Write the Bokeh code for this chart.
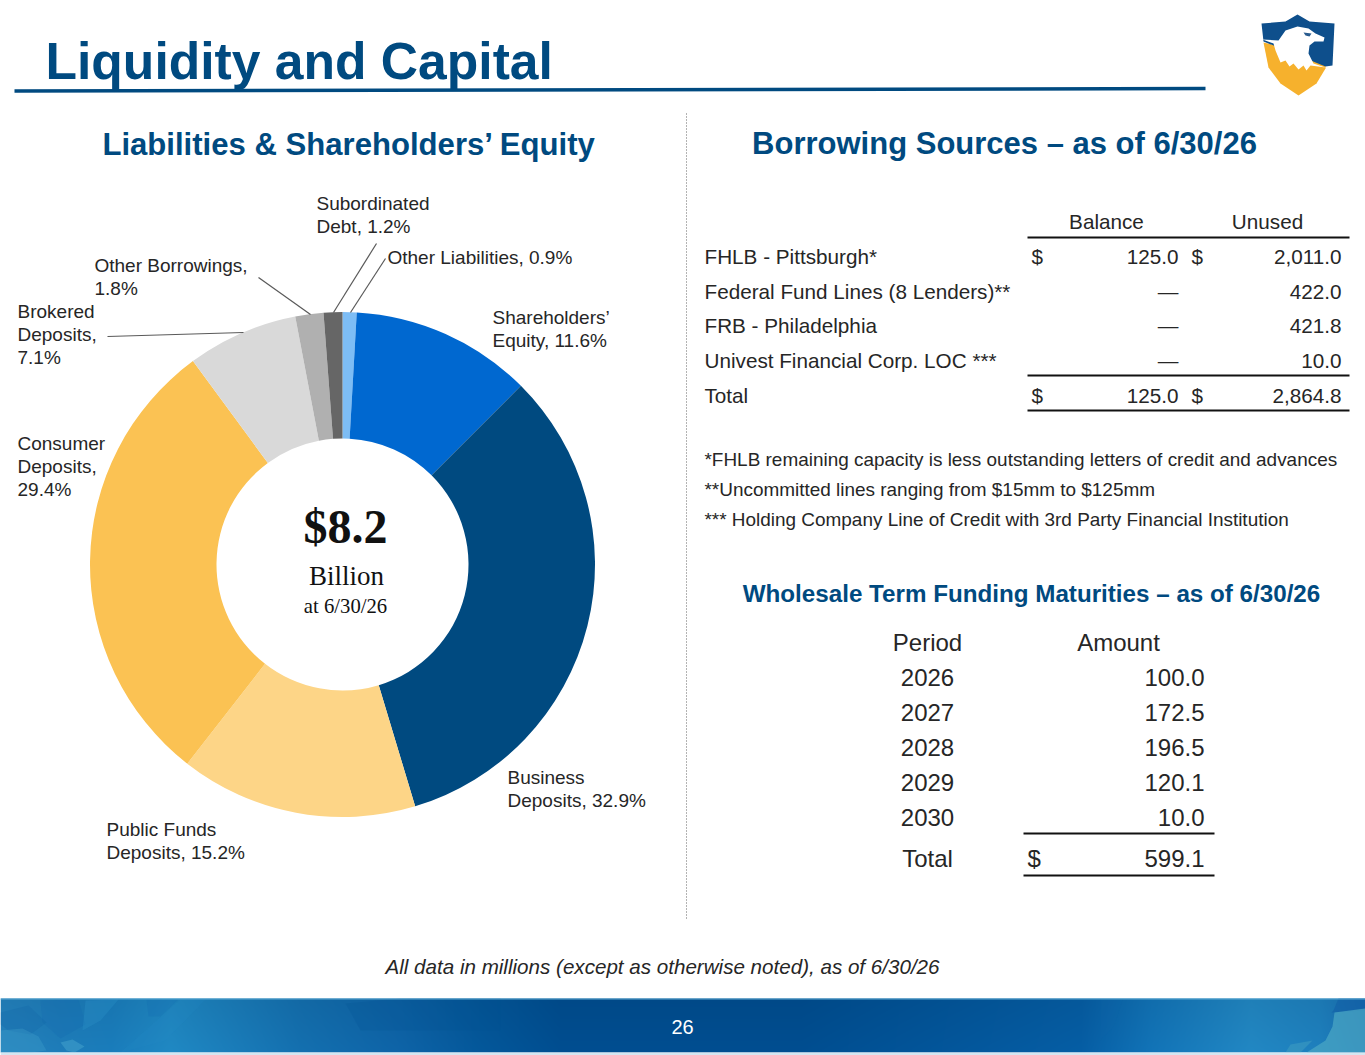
import numpy as np
from bokeh.plotting import figure
from bokeh.models import Range1d
from bokeh.core.properties import value
from bokeh.embed import file_html
from bokeh.resources import INLINE

W, H = 1365, 1055
SANS = "Liberation Sans"
SERIF = "Liberation Serif"
NAVY = "#004a80"
INK = "#262626"

# ---- data ----
slice_names = ["Other Liabilities", "Shareholders\u2019 Equity", "Business Deposits", "Public Funds Deposits",
               "Consumer Deposits", "Brokered Deposits", "Other Borrowings", "Subordinated Debt"]
slice_values = [0.9, 11.6, 32.9, 15.2, 29.4, 7.1, 1.8, 1.2]
slice_colors = ["#7dbdf5", "#0068d0", "#004a80", "#fdd587", "#fbc253", "#d9d9d9", "#b0b0b0", "#666666"]

borrow_names = ["FHLB - Pittsburgh*", "Federal Fund Lines (8 Lenders)**", "FRB - Philadelphia",
                "Univest Financial Corp. LOC ***", "Total"]
borrow_balance = ["125.0", "\u2014", "\u2014", "\u2014", "125.0"]
borrow_unused = ["2,011.0", "422.0", "421.8", "10.0", "2,864.8"]

notes = ["*FHLB remaining capacity is less outstanding letters of credit and advances",
         "**Uncommitted lines ranging from $15mm to $125mm",
         "*** Holding Company Line of Credit with 3rd Party Financial Institution"]

periods = ["2026", "2027", "2028", "2029", "2030", "Total"]
amounts = ["100.0", "172.5", "196.5", "120.1", "10.0", "599.1"]

p = figure(width=W, height=H, x_range=Range1d(0, W), y_range=Range1d(0, H),
           output_backend="svg", toolbar_location=None, min_border=0)
p.axis.visible = False
p.grid.visible = False
p.outline_line_color = None
p.styles = {"position": "absolute", "left": "0px", "top": "0px"}

def Y(v):
    return H - v

def txt(x, y, s, size, color=INK, font=SANS, style="normal", align="left", baseline="middle"):
    p.text([x - 2], [Y(y - 2)], text=[s], text_font=value(font), text_font_size=f"{size}px",
           text_font_style=style, text_color=color, text_align=align, text_baseline=baseline)

def poly(xs, ys, color, alpha=1.0):
    p.patch(xs, [Y(v) for v in ys], fill_color=color, fill_alpha=alpha, line_color=None)

# ---- footer band ----
stops_x = [0, 60, 110, 170, 300, 400, 480, 560, 800, 1080, 1150, 1250, 1320, 1365]
stops_r = [36, 30, 26, 32, 20, 14, 4, 0, 0, 6, 18, 34, 30, 24]
stops_g = [130, 125, 125, 137, 112, 100, 88, 78, 78, 94, 116, 136, 128, 110]
stops_b = [190, 186, 188, 196, 176, 168, 155, 145, 145, 165, 184, 196, 190, 178]
cols = np.arange(W)
rows = 54
rgba = np.zeros((rows, W), dtype=np.uint32)
view = rgba.view(dtype=np.uint8).reshape((rows, W, 4))
for i in range(rows):
    f = i / (rows - 1)                 # 0 at the bottom row of the image
    lift = 1.0 - 0.06 * f
    view[i, :, 0] = np.clip(np.interp(cols, stops_x, stops_r) * lift, 0, 255)
    view[i, :, 1] = np.clip(np.interp(cols, stops_x, stops_g) * lift, 0, 255)
    view[i, :, 2] = np.clip(np.interp(cols, stops_x, stops_b) * lift, 0, 255)
    view[i, :, 3] = 255
p.image_rgba(image=[rgba], x=0, y=Y(1052), dw=W, dh=54)
# mottled texture of the band
poly([0, 28, 46, 30, 8, 0], [1012, 1005, 1022, 1034, 1030, 1024], "#0f5fa6", 0.22)
poly([0, 22, 38, 46, 30, 0], [1030, 1028, 1036, 1050, 1052, 1052], "#45a6cc", 0.3)
poly([60, 72, 84, 74, 66], [1042, 1039, 1046, 1052, 1050], "#58b6d6", 0.35)
poly([40, 78, 85, 60, 42], [1000, 999, 1024, 1038, 1022], "#0f66ae", 0.2)
poly([85, 118, 100, 82], [1000, 999, 1020, 1030], "#2f95c9", 0.3)
poly([146, 178, 160, 148], [999, 999, 1016, 1016], "#0f66ae", 0.2)
poly([180, 205, 165, 120], [999, 999, 1040, 1052], "#2b90c8", 0.15)
poly([345, 400, 500, 500, 360], [1003, 998, 998, 1030, 1030], "#004f90", 0.2)
poly([1100, 1122, 1114, 1100], [999, 999, 1025, 1040], "#0d62a8", 0.2)
poly([1338, 1365, 1365, 1331, 1333], [998, 998, 1010, 1012, 1010], "#0f5ca6", 0.5)
poly([1334, 1365, 1365, 1306, 1325, 1332], [1012, 1008, 1052, 1052, 1040, 1026], "#4ba8c4", 0.7)
poly([1290, 1312, 1300, 1285], [1044, 1040, 1052, 1052], "#4ba8c4", 0.4)
p.quad(left=[0], right=[W], bottom=[Y(999)], top=[Y(998)], fill_color="#58a8d2", line_color=None)
p.quad(left=[0], right=[W], bottom=[Y(1055)], top=[Y(1052)], fill_color="#d5e6f1", line_color=None)
txt(684, 1028, "26", 20, color="#ffffff", align="center")

# ---- header ----
txt(47, 62, "Liquidity and Capital", 51.6, color=NAVY, style="bold")
p.line([14, 1205], [Y(90.5), Y(88)], line_color=NAVY, line_width=3.5)

# logo
poly([1263, 1268, 1280, 1298, 1316, 1325, 1325, 1298],
     [42, 67, 83, 95, 83, 68, 64, 50], "#f6b12d")
poly([1261, 1285, 1297, 1309, 1334, 1332, 1325, 1263],
     [23, 21, 14, 21, 23, 65, 66, 41], "#0e4f8c")
poly([1262, 1278, 1285, 1297, 1308, 1315, 1324, 1323, 1314, 1309, 1308, 1313, 1325, 1310, 1306, 1303,
      1298, 1293, 1289, 1285, 1280, 1275, 1273],
     [39, 40, 30, 26, 28, 33, 37, 41, 41, 45, 53, 63, 67, 65, 70, 65, 69, 63, 66, 60, 62, 50, 43], "#ffffff")
poly([1303, 1311, 1309, 1305], [32, 33, 36, 35], "#2a5c8f")

# divider
p.line([686, 686], [Y(113), Y(918)], line_color="#666666", line_width=1, line_dash="1 2")

# ---- donut ----
txt(351, 146, "Liabilities & Shareholders\u2019 Equity", 31.1, color=NAVY, style="bold", align="center")
vals = np.array(slice_values, dtype=float)
cum = np.concatenate([[0], np.cumsum(vals)]) / vals.sum()
start = np.pi / 2 - 2 * np.pi * cum[1:]
end = np.pi / 2 - 2 * np.pi * cum[:-1]
p.annular_wedge(x=342, y=Y(564), inner_radius=126, outer_radius=252.5,
                start_angle=start, end_angle=end, fill_color=slice_colors, line_color=None)

txt(347, 528, "$8.2", 48, color="#111111", font=SERIF, style="bold", align="center")
txt(348, 577, "Billion", 27, color="#111111", font=SERIF, align="center")
txt(347, 607, "at 6/30/26", 20.7, color="#111111", font=SERIF, align="center")

labels = [(389, 259, ["Other Liabilities, 0.9%"]),
          (494, 319, ["Shareholders\u2019", "Equity, 11.6%"]),
          (509, 779, ["Business", "Deposits, 32.9%"]),
          (108, 831, ["Public Funds", "Deposits, 15.2%"]),
          (19, 445, ["Consumer", "Deposits,", "29.4%"]),
          (19, 313, ["Brokered", "Deposits,", "7.1%"]),
          (96, 267, ["Other Borrowings,", "1.8%"]),
          (318, 205, ["Subordinated", "Debt, 1.2%"])]
for x, y, lines in labels:
    for i, s in enumerate(lines):
        txt(x, y + i * 23, s, 19)

for x0, y0, x1, y1 in [(350, 312, 385, 258), (333, 312, 376, 243), (310, 314, 258, 277), (107, 336, 243, 332)]:
    p.line([x0, x1], [Y(y0), Y(y1)], line_color="#595959", line_width=1.2)

# ---- borrowing table ----
txt(1006, 145, "Borrowing Sources \u2013 as of 6/30/26", 31, color=NAVY, style="bold", align="center")
txt(1108, 223, "Balance", 20.7, align="center")
txt(1269, 223, "Unused", 20.7, align="center")
row_y = [258, 293, 327, 362, 397]
for i, y in enumerate(row_y):
    txt(706, y, borrow_names[i], 20.7)
    txt(1180, y, borrow_balance[i], 20.7, align="right")
    txt(1343, y, borrow_unused[i], 20.7, align="right")
    if i in (0, 4):
        txt(1033, y, "$", 20.7)
        txt(1193, y, "$", 20.7)
for y in (237, 375, 410):
    p.line([1027, 1349], [Y(y), Y(y)], line_color="#111111", line_width=2)

for y, s in zip([461, 491, 521], notes):
    txt(706, y, s, 18.95)

# ---- wholesale table ----
txt(1033, 595, "Wholesale Term Funding Maturities \u2013 as of 6/30/26", 24.2, color=NAVY, style="bold", align="center")
txt(929, 644, "Period", 24, align="center")
txt(1120, 644, "Amount", 24, align="center")
w_y = [679, 714, 749, 784, 819, 860]
for y, a, b in zip(w_y, periods, amounts):
    txt(929, y, a, 24, align="center")
    txt(1206, y, b, 24, align="right")
txt(1029, 860, "$", 24)
for y in (833, 875):
    p.line([1023, 1214], [Y(y), Y(y)], line_color="#111111", line_width=2)

txt(664, 968, "All data in millions (except as otherwise noted), as of 6/30/26", 20.6, style="italic", align="center")

open("out.html", "w").write(file_html(p, INLINE))
